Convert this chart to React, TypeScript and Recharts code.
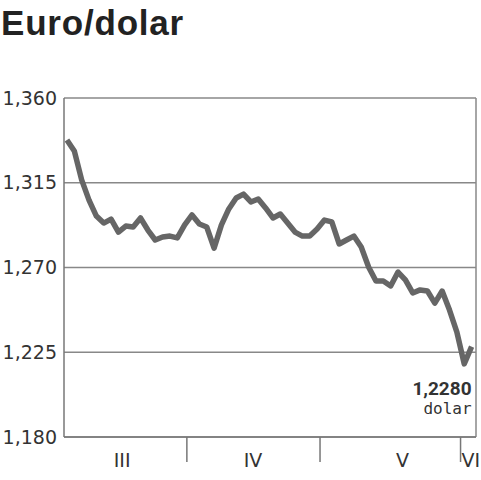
import { LineChart, Line, XAxis, YAxis, CartesianGrid, ReferenceLine, LabelList } from 'recharts';

// kurs euro/dolar (punkt co kilka dni)
const rates = [
  1.3377, 1.3319, 1.3165, 1.3058, 1.2973, 1.2936, 1.2957, 1.2888, 1.292, 1.2915,
  1.2963, 1.2899, 1.2846, 1.2862, 1.2867, 1.2857, 1.2926, 1.2979, 1.2931, 1.2915,
  1.2803, 1.2926, 1.3011, 1.3069, 1.309, 1.3048, 1.3064, 1.3016, 1.2963, 1.2984,
  1.2936, 1.2888, 1.2867, 1.2867, 1.2904, 1.2952, 1.2942, 1.2825, 1.2846, 1.2867,
  1.2809, 1.2703, 1.2628, 1.2628, 1.2602, 1.2676, 1.2634, 1.2565, 1.2581, 1.2575,
  1.2511, 1.2575, 1.2474, 1.2357, 1.2188, 1.228,
];

const yTicks = [1.18, 1.225, 1.27, 1.315, 1.36];
const months = ['III', 'IV', 'V', 'VI'];
const monthCenters = [7.5, 25.3, 45.6, 54.9];
const monthBounds = [16.3, 34.4, 53.5];
const unit = 'dolar';

const data = rates.map((v, i) => ({ i, v }));
const lastIndex = rates.length - 1;

const fmt = (v: number, d: number) => v.toFixed(d).replace('.', ',');

const MonthTick = (props: any) => {
  const { x, y, payload } = props;
  const bi = monthBounds.indexOf(payload.value);
  if (bi >= 0) {
    return <line x1={x} x2={x} y1={y} y2={y + 25} stroke="#777" strokeWidth={1.5} />;
  }
  const mi = monthCenters.indexOf(payload.value);
  return (
    <text x={x} y={y + 30} textAnchor="middle" fill="#333" fontSize={19} fontFamily="DejaVu Sans">
      {months[mi]}
    </text>
  );
};

const LastLabel = (props: any) => {
  const { x, y, index, value } = props;
  if (index !== lastIndex) return null;
  return (
    <g>
      <text x={x} y={y + 48} textAnchor="end" fill="#333" fontSize={19} fontWeight="bold" fontFamily="Roboto">
        {fmt(value, 4)}
      </text>
      <text x={x} y={y + 67} textAnchor="end" fill="#333" fontSize={16} fontFamily="DejaVu Sans Mono">
        {unit}
      </text>
    </g>
  );
};

export default function App() {
  return (
    <div style={{ position: 'absolute', left: 0, top: 0, width: 481, height: 480, background: '#fff' }}>
      <div
        style={{
          position: 'absolute',
          left: 1,
          top: 3,
          fontFamily: 'Liberation Sans, Arial, sans-serif',
          fontWeight: 'bold',
          fontSize: 35,
          color: '#222',
          letterSpacing: 0.8,
        }}
      >
        Euro/dolar
      </div>
      <LineChart width={481} height={480} data={data} margin={{ top: 98, right: 5, bottom: 0, left: 0 }}>
        <CartesianGrid vertical={false} stroke="#888" strokeWidth={1.5} />
        <XAxis
          dataKey="i"
          type="number"
          domain={[-0.4, 55.6]}
          ticks={[...monthCenters, ...monthBounds]}
          interval={0}
          tickLine={false}
          tickSize={0}
          tickMargin={0}
          height={43}
          axisLine={{ stroke: '#777', strokeWidth: 1.5 }}
          tick={<MonthTick />}
        />
        <YAxis
          domain={[1.18, 1.36]}
          ticks={yTicks}
          interval={0}
          width={64}
          tickLine={false}
          tickSize={0}
          tickMargin={7}
          axisLine={{ stroke: '#777', strokeWidth: 1.5 }}
          tickFormatter={(v: number) => fmt(v, 3)}
          tick={{ fill: '#333', fontSize: 19, fontFamily: 'DejaVu Sans' }}
        />
        <ReferenceLine x={55.6} stroke="#888" strokeWidth={1.5} />
        <Line
          dataKey="v"
          type="linear"
          stroke="#666"
          strokeWidth={5.5}
          strokeLinejoin="round"
          dot={false}
          isAnimationActive={false}
        >
          <LabelList dataKey="v" content={<LastLabel />} />
        </Line>
      </LineChart>
    </div>
  );
}
